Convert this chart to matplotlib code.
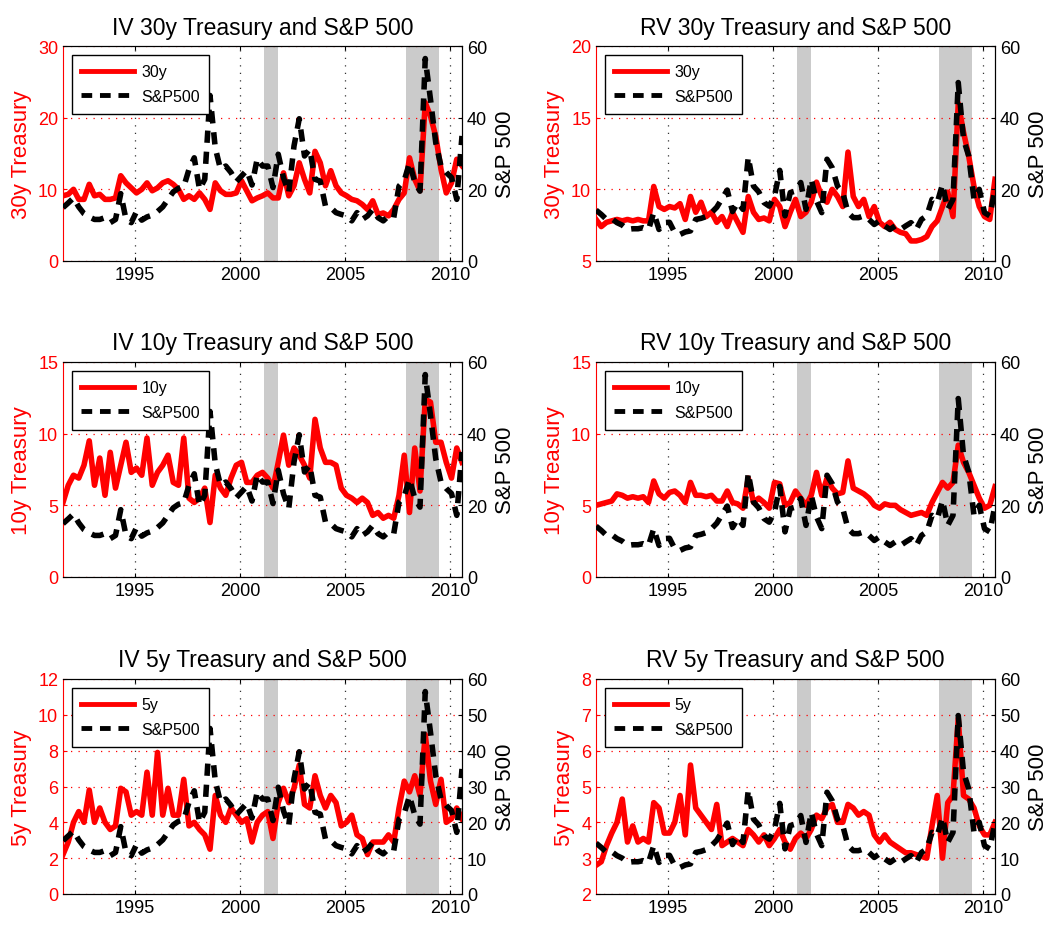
import numpy as np
import matplotlib.pyplot as plt

plt.rcParams['font.family'] = ['Liberation Sans', 'DejaVu Sans']

# quarterly sample dates, Aug 1991 - Aug 2010
dates = 1991.58 + 0.25 * np.arange(77)

recessions = [(2001.17, 2001.83), (2007.92, 2009.5)]

iv_spx = [14.9, 16.2, 17.6, 15.1, 13.2, 12.3, 11.6, 11.6, 12.1, 10.7,
          11.6, 18.8, 11.6, 10.7, 13.8, 11.4, 12.3, 12.8, 13.8, 15.1,
          17.2, 19.3, 20.3, 20.7, 25.6, 28.8, 20.0, 22.8, 46.2, 31.6,
          25.6, 26.5, 24.7, 22.1, 23.7, 25.3, 21.2, 28.6, 26.5, 26.5,
          20.5, 29.8, 23.2, 19.1, 32.1, 39.7, 29.3, 31.2, 22.8, 22.3,
          15.3, 14.9, 13.5, 13.0, 12.6, 11.2, 13.5, 11.6, 12.6, 14.4,
          12.1, 11.2, 12.6, 12.1, 20.9, 22.5, 27.4, 22.0, 19.5, 56.5,
          45.1, 33.0, 26.5, 24.7, 23.3, 17.2, 34.9]

rv_spx = [14.2, 13.0, 11.6, 11.8, 10.7, 10.0, 8.8, 9.0, 9.0, 9.3,
          8.8, 13.5, 8.8, 10.7, 10.8, 7.9, 7.4, 8.1, 8.4, 11.6,
          11.9, 12.4, 13.5, 15.0, 17.4, 19.8, 13.8, 16.3, 14.4, 29.0,
          20.9, 19.3, 16.3, 15.3, 18.1, 25.3, 12.6, 19.1, 19.5, 21.9,
          14.4, 22.8, 16.8, 13.5, 28.4, 26.0, 20.9, 19.1, 13.5, 12.1,
          12.1, 12.6, 11.6, 10.2, 11.2, 9.8, 8.8, 9.8, 8.8, 9.8,
          10.7, 8.8, 11.6, 12.6, 17.2, 16.3, 21.4, 14.4, 17.2, 49.8,
          34.0, 29.3, 17.2, 20.0, 13.5, 12.6, 20.0]

iv_30y = [9.1, 9.3, 10.0, 8.6, 8.6, 10.7, 9.1, 9.3, 8.6, 8.6,
          8.8, 11.9, 10.9, 10.2, 9.5, 10.0, 10.9, 9.8, 10.2, 10.9,
          11.2, 10.7, 10.0, 8.6, 9.1, 8.6, 9.5, 8.6, 7.2, 10.9,
          9.8, 9.3, 9.3, 9.5, 11.2, 9.8, 8.4, 8.8, 9.1, 9.5,
          8.8, 8.8, 12.3, 9.1, 10.5, 13.7, 11.4, 9.5, 15.3, 13.7,
          10.5, 12.6, 10.5, 9.5, 9.1, 8.6, 8.4, 7.9, 7.2, 8.4,
          6.5, 6.7, 6.3, 7.2, 8.6, 9.5, 14.4, 11.4, 9.8, 22.1,
          20.2, 17.4, 12.8, 9.5, 10.9, 14.2, 13.3]

rv_30y = [7.9, 7.4, 7.7, 7.8, 7.9, 7.8, 7.9, 7.8, 7.9, 7.8,
          7.8, 10.2, 8.8, 8.6, 8.8, 8.7, 9.0, 7.9, 9.5, 8.4,
          9.1, 8.1, 8.4, 7.7, 8.1, 7.4, 8.4, 7.7, 7.0, 9.5,
          8.4, 7.9, 8.0, 7.8, 9.3, 8.8, 7.4, 8.4, 9.3, 8.1,
          8.4, 9.1, 10.5, 9.5, 9.1, 10.0, 9.5, 8.8, 12.6, 9.5,
          8.8, 9.3, 8.1, 8.8, 7.7, 7.4, 7.7, 7.2, 7.0, 6.9,
          6.4, 6.4, 6.5, 6.7, 7.4, 7.8, 8.8, 9.8, 8.1, 16.0,
          14.0, 12.3, 10.2, 8.8, 8.1, 7.9, 10.7]

iv_10y = [5.2, 6.4, 7.1, 6.9, 7.8, 9.5, 6.4, 8.3, 5.7, 8.7,
          6.2, 7.8, 9.4, 7.3, 7.6, 7.1, 9.7, 6.4, 7.3, 7.8,
          8.5, 6.6, 6.4, 9.7, 5.5, 5.2, 5.5, 6.2, 3.8, 7.1,
          6.2, 5.7, 6.9, 7.8, 8.0, 6.6, 6.6, 7.1, 7.3, 6.9,
          6.2, 8.0, 9.9, 7.8, 9.0, 8.5, 7.8, 6.9, 11.0, 9.0,
          8.0, 8.0, 7.8, 6.2, 5.7, 5.5, 5.2, 5.5, 5.2, 4.3,
          4.5, 4.1, 4.3, 4.1, 5.7, 8.5, 4.5, 9.0, 6.0, 12.4,
          12.2, 9.4, 9.4, 8.0, 6.9, 9.0, 8.0]

rv_10y = [5.0, 5.1, 5.2, 5.3, 5.8, 5.7, 5.5, 5.6, 5.5, 5.6,
          5.2, 6.7, 5.8, 5.5, 5.9, 6.0, 5.7, 5.2, 6.6, 5.7,
          5.7, 5.6, 5.7, 5.3, 5.3, 6.0, 5.2, 5.1, 4.8, 6.9,
          5.2, 5.5, 5.2, 4.8, 6.6, 6.5, 5.0, 5.2, 6.0, 5.5,
          5.0, 5.7, 7.3, 5.7, 6.9, 6.2, 5.8, 5.9, 8.1, 6.2,
          6.0, 5.8, 5.5, 5.0, 4.8, 5.1, 5.0, 5.0, 4.7, 4.5,
          4.3, 4.4, 4.5, 4.3, 5.2, 5.9, 6.6, 6.2, 6.6, 9.2,
          8.0, 7.3, 6.4, 5.5, 4.8, 5.0, 6.3]

iv_5y = [2.2, 2.9, 4.0, 4.6, 4.0, 5.8, 4.0, 4.8, 4.0, 3.6,
         3.8, 5.9, 5.7, 4.4, 4.6, 4.4, 6.8, 4.4, 7.9, 4.4,
         5.9, 4.4, 4.4, 6.4, 3.8, 4.0, 3.6, 3.3, 2.5, 5.5,
         4.4, 4.0, 4.8, 4.4, 4.0, 4.2, 2.9, 4.0, 4.4, 4.6,
         3.1, 5.1, 5.9, 5.1, 5.9, 7.2, 5.0, 4.8, 6.6, 5.5,
         4.8, 5.5, 5.1, 3.8, 4.0, 4.4, 3.3, 3.1, 2.2, 2.9,
         2.9, 2.9, 3.3, 2.9, 4.8, 6.3, 5.7, 6.6, 5.5, 8.9,
         6.3, 5.0, 6.4, 4.0, 4.2, 4.8, 4.2]

rv_5y = [2.8, 2.9, 3.35, 3.7, 4.0, 4.65, 3.45, 3.9, 3.45, 3.55,
         3.45, 4.55, 4.4, 3.7, 3.7, 4.0, 4.75, 3.65, 5.6, 4.4,
         4.2, 4.0, 3.8, 4.5, 3.35, 3.45, 3.55, 3.45, 3.35, 3.8,
         3.65, 3.45, 3.65, 3.35, 3.55, 3.8, 3.45, 3.25, 3.55, 3.7,
         3.55, 3.8, 4.2, 4.1, 4.4, 4.5, 4.0, 4.0, 4.5, 4.4,
         4.2, 4.3, 4.2, 3.65, 3.45, 3.65, 3.45, 3.35, 3.25, 3.15,
         3.15, 3.1, 3.05, 3.0, 3.9, 4.75, 3.0, 4.55, 4.75, 6.9,
         4.75, 4.65, 4.4, 3.9, 3.65, 3.65, 4.0]

panels = [
    ('IV 30y Treasury and S&P 500', iv_30y, '30y', [0, 10, 20, 30], iv_spx, [0, 20, 40, 60]),
    ('RV 30y Treasury and S&P 500', rv_30y, '30y', [5, 10, 15, 20], rv_spx, [0, 20, 40, 60]),
    ('IV 10y Treasury and S&P 500', iv_10y, '10y', [0, 5, 10, 15], iv_spx, [0, 20, 40, 60]),
    ('RV 10y Treasury and S&P 500', rv_10y, '10y', [0, 5, 10, 15], rv_spx, [0, 20, 40, 60]),
    ('IV 5y Treasury and S&P 500', iv_5y, '5y', [0, 2, 4, 6, 8, 10, 12], iv_spx, [0, 10, 20, 30, 40, 50, 60]),
    ('RV 5y Treasury and S&P 500', rv_5y, '5y', [2, 3, 4, 5, 6, 7, 8], rv_spx, [0, 10, 20, 30, 40, 50, 60]),
]

W, H = 1058, 928
fig = plt.figure(figsize=(W / 100, H / 100), dpi=100)
lefts = [63, 596]
tops = [47, 363, 680]
aw, ah = 399, 215
dots = (0, (1, 5))

for i, (title, tsy, lab, lt, spx, rt) in enumerate(panels):
    r, c = divmod(i, 2)
    ax = fig.add_axes([lefts[c] / W, 1 - (tops[r] + ah) / H, aw / W, ah / H])
    for a, b in recessions:
        ax.axvspan(a, b, color='#cbcbcb', lw=0, zorder=0)
    l1, = ax.plot(dates, tsy, color='red', lw=4.0, label=lab, zorder=2)
    ax.set_xlim(dates[0], dates[-1])
    ax.set_ylim(lt[0], lt[-1])
    ax.set_yticks(lt)
    ax.set_xticks([1995, 2000, 2005, 2010])
    ax.grid(axis='x', color='#333333', ls=dots, lw=0.9)
    ax.grid(axis='y', color='red', ls=dots, lw=0.9)
    ax.tick_params(axis='both', direction='in', length=3, labelsize=13, top=True)
    ax.tick_params(axis='y', colors='red')
    ax.spines['left'].set_color('red')
    ax.set_ylabel(lab + ' Treasury', color='red', fontsize=16, labelpad=4)
    ax.set_title(title, fontsize=16.5, pad=9)

    ax2 = ax.twinx()
    l2, = ax2.plot(dates, spx, color='k', lw=4.0, ls=(0, (2.2, 1.6)), label='S&P500')
    ax2.set_ylim(rt[0], rt[-1])
    ax2.set_yticks(rt)
    ax2.tick_params(axis='y', direction='in', length=3, labelsize=13)
    ax2.spines['left'].set_visible(False)
    ax2.set_ylabel('S&P 500', fontsize=16, labelpad=6)

    leg = ax2.legend([l1, l2], [lab, 'S&P500'], loc='upper left', fontsize=11.5,
                     fancybox=False, framealpha=1, edgecolor='k', handlelength=3.3,
                     borderaxespad=0.55, borderpad=0.6, labelspacing=0.6, handletextpad=0.45)
    leg.get_frame().set_linewidth(1.0)
    for h in leg.get_lines():
        h.set_linewidth(3.5)

fig.savefig('out.png', dpi=100)
